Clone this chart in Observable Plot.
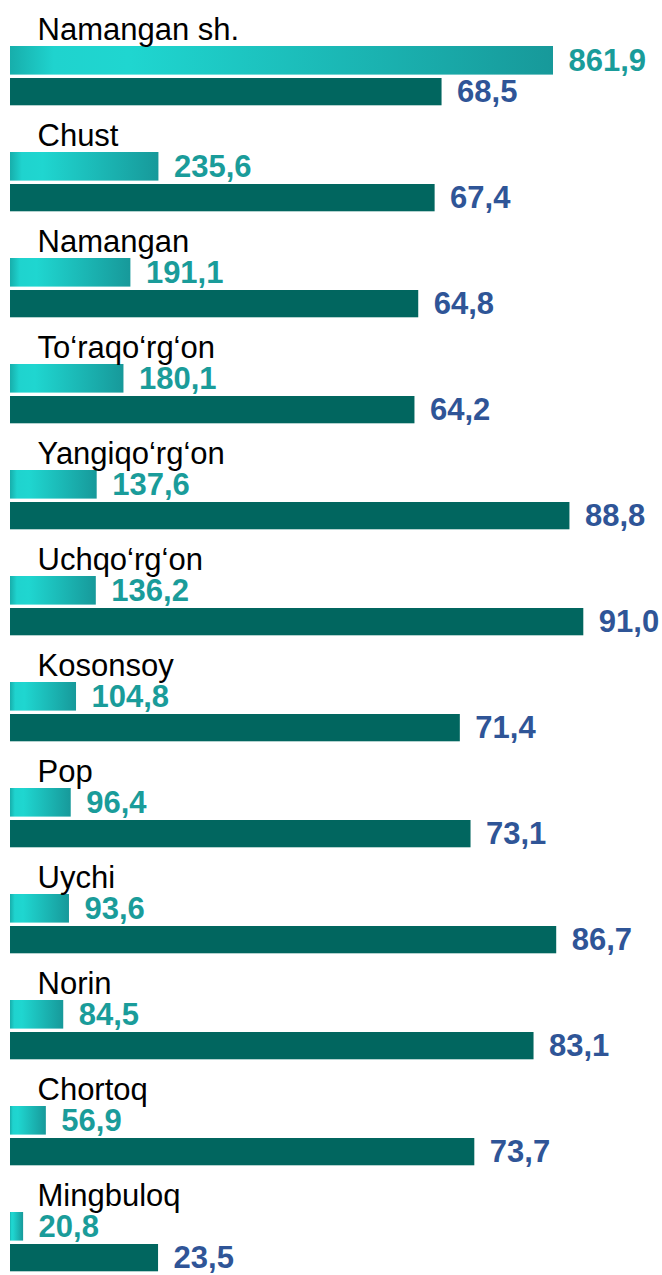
<!DOCTYPE html>
<html>
<head>
<meta charset="utf-8">
<script src="https://cdn.jsdelivr.net/npm/d3@7"></script>
<script src="https://cdn.jsdelivr.net/npm/@observablehq/plot@0.6"></script>
<style>
  html, body { margin: 0; padding: 0; background: #ffffff; }
  #chart svg { display: block; }
</style>
</head>
<body>
<div id="chart"></div>
<script>
const categories = ["Namangan sh.", "Chust", "Namangan", "To‘raqo‘rg‘on", "Yangiqo‘rg‘on", "Uchqo‘rg‘on", "Kosonsoy", "Pop", "Uychi", "Norin", "Chortoq", "Mingbuloq"];
const volume = [861.9, 235.6, 191.1, 180.1, 137.6, 136.2, 104.8, 96.4, 93.6, 84.5, 56.9, 20.8];
const share = [68.5, 67.4, 64.8, 64.2, 88.8, 91.0, 71.4, 73.1, 86.7, 83.1, 73.7, 23.5];

// share (%) is drawn on a second axis, 10 volume units per percent
const shareScale = 10;

const data = categories.map((c, i) => ({ name: c, volume: volume[i], share: share[i] }));
const fmt = v => v.toFixed(1).replace(".", ",");

const band = 106.4;
const W = 662, H = 1275;
const font = "'Liberation Sans', Arial, Helvetica, sans-serif";

const gradientDefs = () => {
  const defs = d3.create("svg:defs");
  const g = defs.append("linearGradient")
    .attr("id", "volGrad")
    .attr("x1", "0").attr("y1", "0").attr("x2", "1").attr("y2", "0");
  [[0, "#17aeab"], [0.08, "#1fd3ce"], [0.22, "#1fd6d0"], [1, "#17999a"]].forEach(([o, c]) =>
    g.append("stop").attr("offset", o).attr("stop-color", c));
  return defs.node();
};

const chart = Plot.plot({
  width: W,
  height: H,
  margin: 0,
  style: { fontFamily: font, background: "#ffffff" },
  x: { domain: [0, 1000], range: [10, 640], axis: null },
  y: { domain: categories, range: [0, band * categories.length], padding: 0, axis: null },
  marks: [
    gradientDefs,
    Plot.barX(data, {
      x1: 0, x2: "volume", y: "name",
      insetTop: 44, insetBottom: band - 73,
      fill: "url(#volGrad)"
    }),
    Plot.barX(data, {
      x1: 0, x2: d => d.share * shareScale, y: "name",
      insetTop: 76, insetBottom: band - 103.7,
      fill: "#01665f"
    }),
    Plot.text(data, {
      x: 0, y: "name", text: "name",
      dx: 27, dy: 38 - band / 2,
      textAnchor: "start", lineAnchor: "bottom",
      fontSize: 31, fill: "#000000"
    }),
    Plot.text(data, {
      x: "volume", y: "name", text: d => fmt(d.volume),
      dx: 15, dy: 58.5 - band / 2,
      textAnchor: "start", lineAnchor: "middle",
      fontSize: 31, fontWeight: "bold", fill: "#1a9c9a"
    }),
    Plot.text(data, {
      x: d => d.share * shareScale, y: "name", text: d => fmt(d.share),
      dx: 15, dy: 90 - band / 2,
      textAnchor: "start", lineAnchor: "middle",
      fontSize: 31, fontWeight: "bold", fill: "#2f5597"
    })
  ]
});

document.getElementById("chart").appendChild(chart);
</script>
</body>
</html>
